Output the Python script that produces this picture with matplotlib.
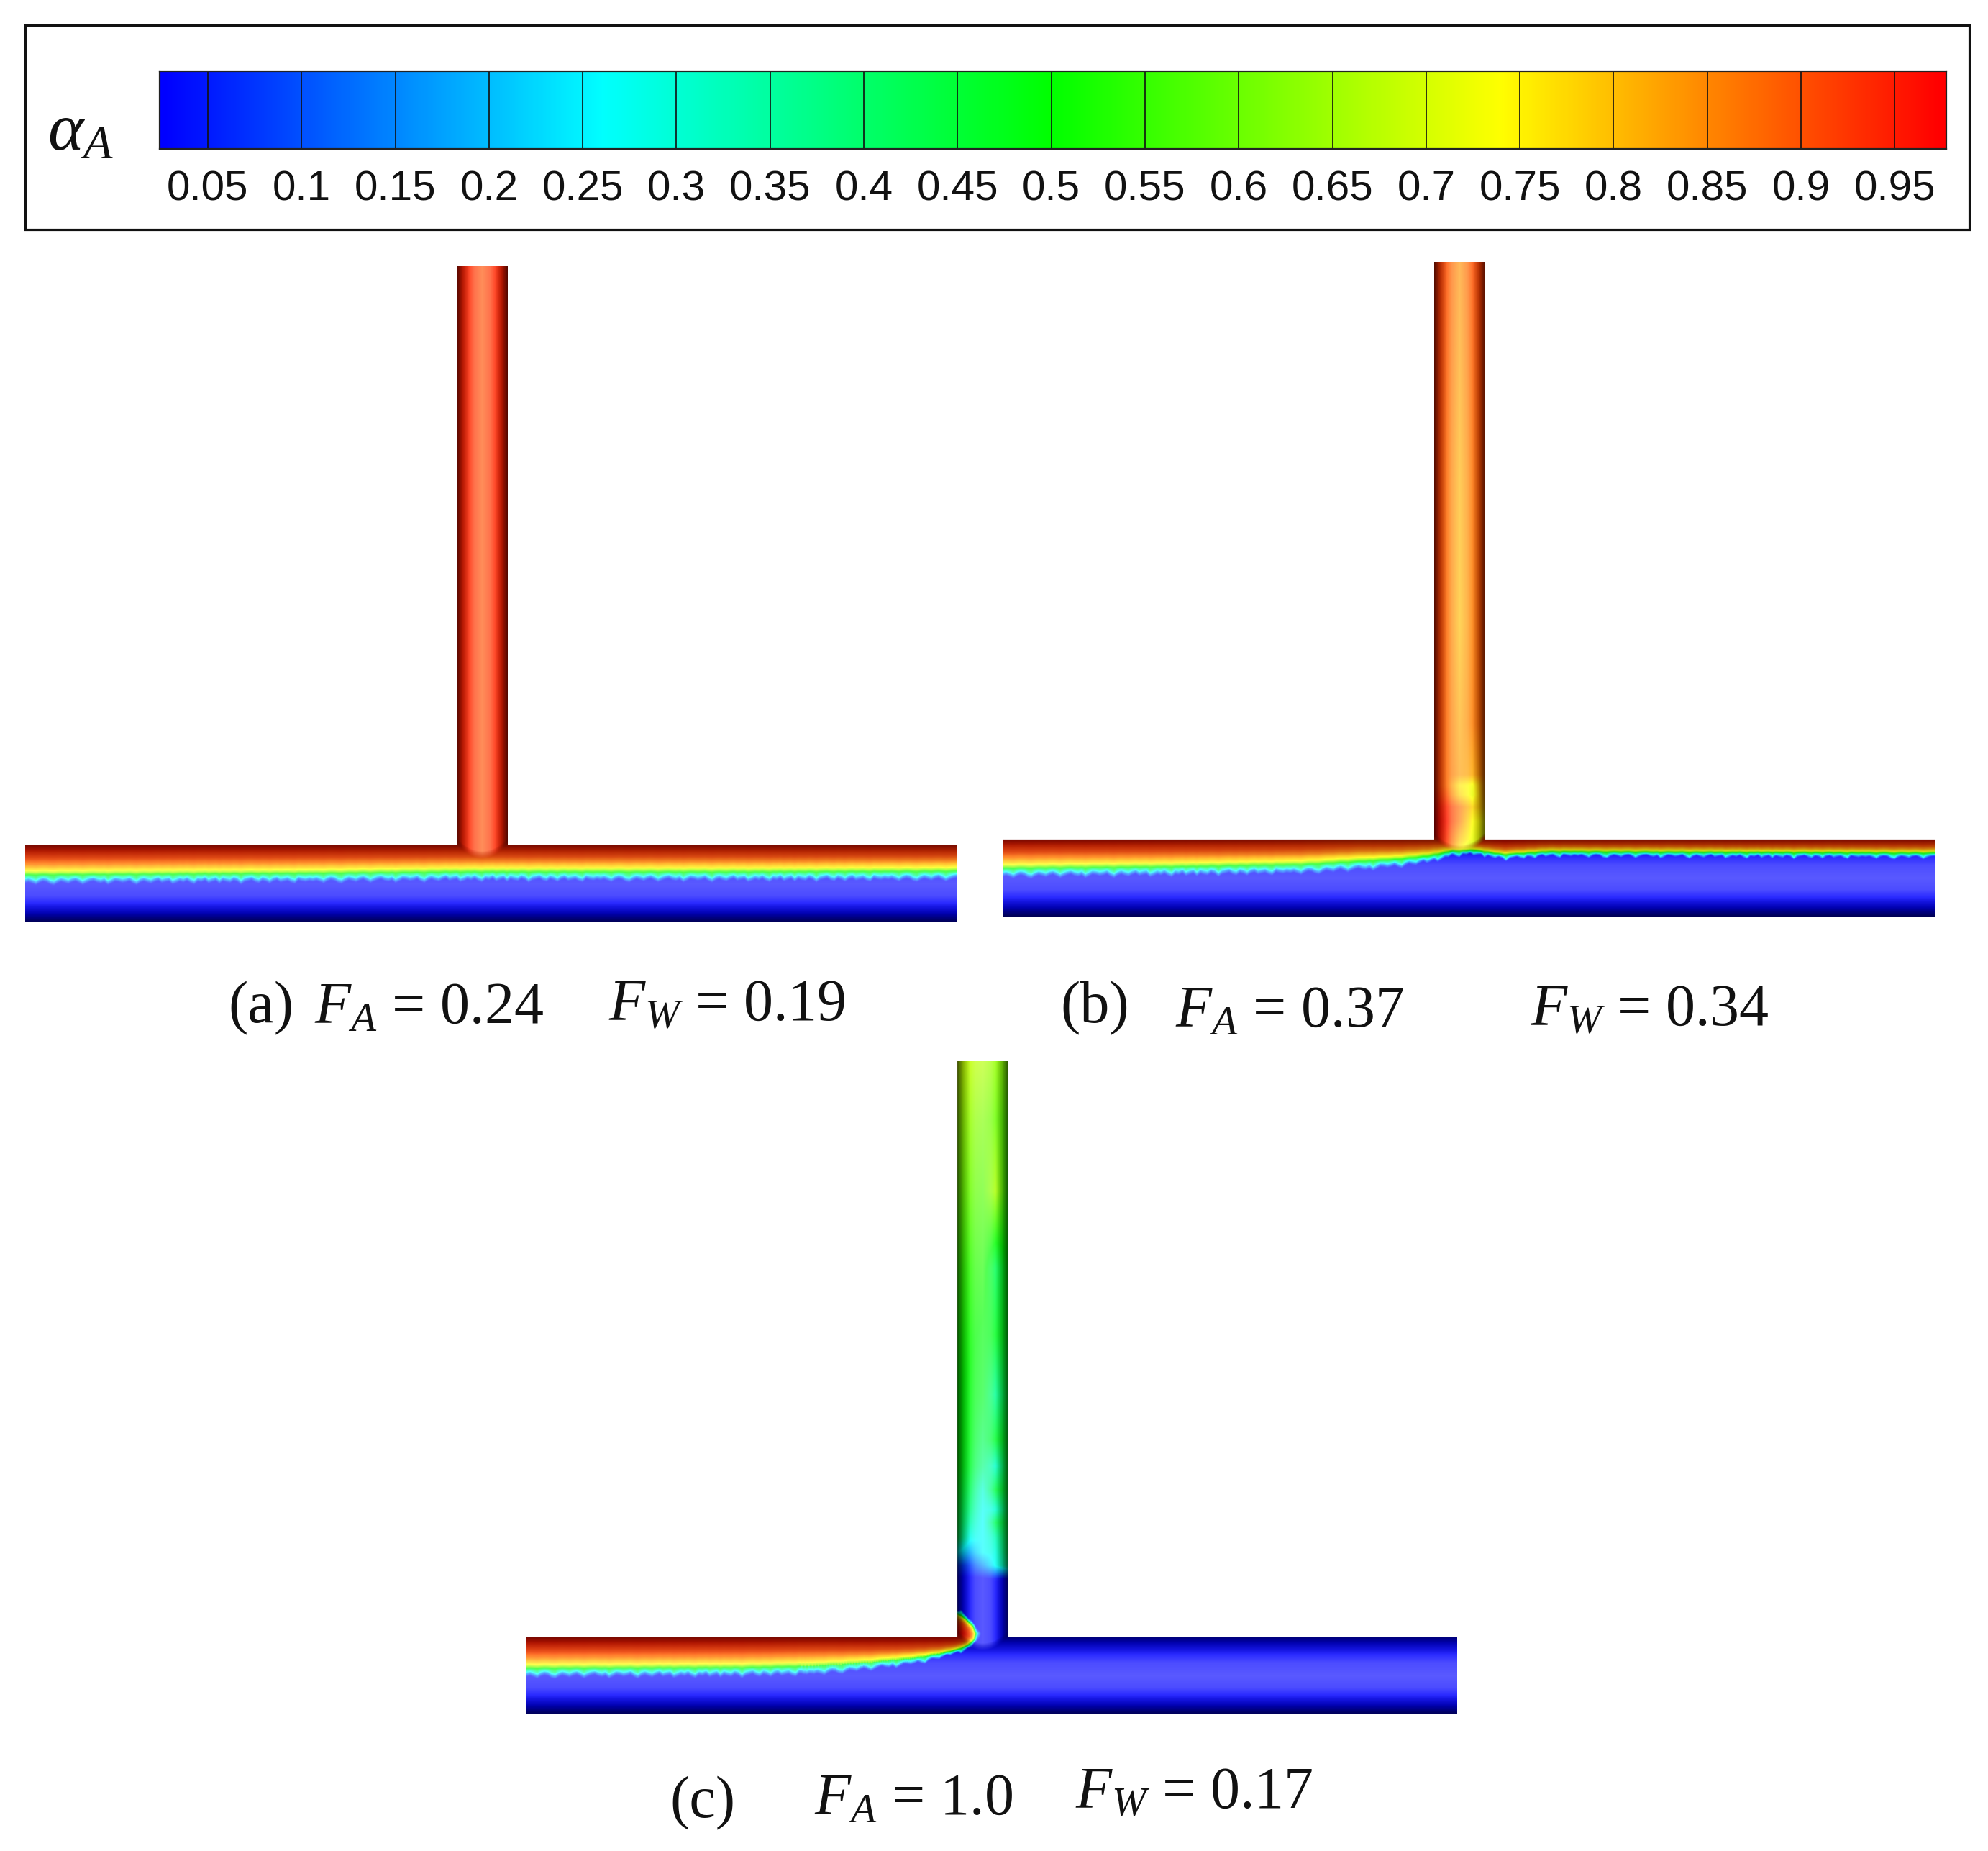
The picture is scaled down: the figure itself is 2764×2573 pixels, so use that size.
"""T-junction phase fraction contours, colour key on top, three flow cases below."""

import matplotlib

matplotlib.use("Agg")
import matplotlib.pyplot as plt
import numpy as np
from matplotlib.colors import LinearSegmentedColormap
from matplotlib.patches import Rectangle
from matplotlib.path import Path

W, H = 2764, 2573

LEVELS = [0.05, 0.1, 0.15, 0.2, 0.25, 0.3, 0.35, 0.4, 0.45, 0.5, 0.55, 0.6, 0.65,
          0.7, 0.75, 0.8, 0.85, 0.9, 0.95]
LEVEL_LABELS = ["0.05", "0.1", "0.15", "0.2", "0.25", "0.3", "0.35", "0.4", "0.45", "0.5",
                "0.55", "0.6", "0.65", "0.7", "0.75", "0.8", "0.85", "0.9", "0.95"]
KEY_RANGE = [0.0243, 0.9775]

# colour key nodes
CMAP_POS = [0.0, 0.026, 0.26, 0.5, 0.74, 0.975, 1.0]
CMAP_COL = ["#0000ff", "#0000ff", "#00ffff", "#00ff00", "#ffff00", "#ff0000", "#ff0000"]

# alpha across the interface, depth in px below the green line
BAND_DEPTH = [-45, -30, -18, -12, -5, -2.5, 0, 2, 4, 6, 9, 12]
BAND_ALPHA = [0.975, 0.95, 0.91, 0.86, 0.75, 0.65, 0.5, 0.38, 0.27, 0.16, 0.04, 0.0]

# interface height above the pipe floor in px, along the main pipe
A_IFACE_X = [0, 200, 400, 600, 800, 1000, 1296]
A_IFACE_Y = [66, 67, 68, 70, 70, 70, 71]
A_BAND_X = [0, 1296]
A_BAND_W = [1.2, 1.2]

B_IFACE_X = [0, 224, 415, 542, 593, 626, 655, 697, 761, 1000, 1296]
B_IFACE_Y = [67, 69, 72, 79, 84, 91, 92, 86, 90, 89, 88]
B_BAND_X = [0, 500, 593, 640, 1296]
B_BAND_W = [1.2, 1.2, 0.9, 0.6, 0.6]

C_IFACE_X = [0, 300, 400, 478, 540, 580, 600, 615, 624, 626, 622, 612, 600]
C_IFACE_Y = [64, 65, 67, 72, 78, 85, 90, 96, 104, 112, 122, 132, 140]
C_BAND_X = [0, 400, 540, 600, 1296]
C_BAND_W = [1.2, 1.2, 0.8, 0.45, 0.45]

# branch alpha table, rows by height above the main pipe, columns across the branch
BRANCH_ACROSS = [-1.0, -0.5, 0.0, 0.5, 1.0]
A_BRANCH_H = [-25, 804]
A_BRANCH = [[0.95, 0.94, 0.90, 0.94, 0.95],
            [0.95, 0.94, 0.90, 0.94, 0.95]]
B_BRANCH_H = [-25, 0, 25, 45, 62, 75, 90, 160, 300, 500, 804]
B_BRANCH = [[0.96, 0.90, 0.72, 0.60, 0.62],
            [0.97, 0.93, 0.80, 0.72, 0.72],
            [0.97, 0.95, 0.86, 0.74, 0.74],
            [0.96, 0.94, 0.87, 0.78, 0.80],
            [0.95, 0.90, 0.78, 0.72, 0.84],
            [0.94, 0.88, 0.76, 0.73, 0.85],
            [0.94, 0.88, 0.83, 0.82, 0.87],
            [0.94, 0.88, 0.82, 0.86, 0.90],
            [0.94, 0.88, 0.80, 0.86, 0.92],
            [0.94, 0.88, 0.81, 0.87, 0.92],
            [0.94, 0.90, 0.84, 0.90, 0.93]]
C_BRANCH_H = [-25, 70, 82, 100, 118, 139, 160, 178, 205, 238, 275, 337, 420, 513, 620, 720, 802]
C_BRANCH = [[0.0, 0.0, 0.0, 0.0, 0.0],
            [0.0, 0.0, 0.0, 0.0, 0.0],
            [0.02, 0.02, 0.02, 0.04, 0.03],
            [0.08, 0.08, 0.16, 0.27, 0.36],
            [0.26, 0.18, 0.26, 0.29, 0.42],
            [0.42, 0.28, 0.26, 0.33, 0.44],
            [0.45, 0.34, 0.26, 0.42, 0.45],
            [0.46, 0.38, 0.27, 0.30, 0.44],
            [0.48, 0.42, 0.30, 0.44, 0.46],
            [0.50, 0.46, 0.38, 0.31, 0.47],
            [0.50, 0.48, 0.42, 0.46, 0.47],
            [0.50, 0.49, 0.47, 0.36, 0.46],
            [0.52, 0.51, 0.49, 0.47, 0.48],
            [0.55, 0.54, 0.53, 0.42, 0.50],
            [0.60, 0.60, 0.58, 0.66, 0.54],
            [0.64, 0.64, 0.62, 0.60, 0.58],
            [0.68, 0.68, 0.67, 0.64, 0.62]]

# jagged edge of the interface, px, one value per 5 px sample and then repeated
RIPPLE = [0.5, -0.8, 1.2, 3.4, 0.2, -1.6, -0.4, 2.8, 4.0, 0.9, -1.1, 0.3, 2.0, -0.5, -1.9, 0.7,
          3.6, 1.1, -0.9, -2.1, 0.4, 1.5, -0.2, 3.9, 1.3, -1.4, -0.6, 1.0, 0.1, -1.7, 1.9, 4.2,
          0.6, -1.2, 0.8, 2.2, -0.3, -2.2, 1.4, 0.0, -1.0, 3.5, 1.6, -0.7, 0.9, -1.5, 1.7, 3.8,
          -0.4, 0.6, -1.8, 2.4, 0.3, -1.3, 3.1, -0.9, 0.8, 1.9, -1.6, 0.2, 4.4, 0.7, -0.6, -2.0,
          1.2, 2.7, -1.1, 0.5, 3.3, -0.2, -1.7, 1.6, 0.4, -0.8, 2.1, 3.6, -1.4, 0.1, 1.0, -0.5]

# captions: x, y, text in picture px
CAPTIONS = [
    (317, 1402, "(a)"), (437, 1402, r"$F_A$ = 0.24"), (846, 1398, r"$F_W$ = 0.19"),
    (1474, 1402, "(b)"), (1634, 1407, r"$F_A$ = 0.37"), (2128, 1405, r"$F_W$ = 0.34"),
    (931, 2507, "(c)"), (1132, 2502, r"$F_A$ = 1.0"), (1495, 2493, r"$F_W$ = 0.17"),
]

MAIN_LEN = 1296
MAIN_D = 107
BRANCH_X0 = 600
BRANCH_D = 71

cmap = LinearSegmentedColormap.from_list("key", list(zip(CMAP_POS, CMAP_COL)), N=1024)


def table_lookup(xq, yq, xs, ys, table):
    table = np.asarray(table)
    by_height = np.array([np.interp(yq, ys, table[:, j]) for j in range(table.shape[1])])
    return np.array([np.interp(xq, xs, by_height[:, i]) for i in range(len(yq))])


def light(alpha, r):
    # cylinder look: bright strip in the middle, dark at the walls
    r = np.abs(r)
    white = np.interp(r, [0, 0.3, 0.6, 0.8, 1], [0.35, 0.3, 0.1, 0, 0])[..., None]
    dark = np.interp(r, [0, 0.5, 0.75, 0.9, 1], [1, 1, 0.72, 0.47, 0.32])[..., None]
    rgb = cmap(alpha)[..., :3]
    return (rgb * (1 - white) + white) * dark


def band(depth, width):
    rip = np.resize(RIPPLE, MAIN_LEN // 5 + 2)
    rx = np.arange(len(rip)) * 5.0
    wiggle = np.interp(np.arange(MAIN_LEN) + 0.5, rx, rip)
    d = depth - wiggle * (0.12 + 0.8 * np.clip(depth / 6.0, 0, 1))
    return np.interp(d / width, BAND_DEPTH, BAND_ALPHA)


def panel_image(height, iface_x, iface_y, band_x, band_w, branch_h, branch, nose=False):
    x = np.arange(MAIN_LEN) + 0.5
    y = np.arange(height) + 0.5
    X, Y = np.meshgrid(x, y)
    width = np.interp(x, band_x, band_w)[None, :]

    if nose:
        # interface folds back into the branch, so use distance to the curve there
        n = len(iface_x)
        tip = int(np.argmax(iface_x))
        line_x = np.interp(np.linspace(0, n - 1, 240), np.arange(n), iface_x)
        line_y = np.interp(np.linspace(0, n - 1, 240), np.arange(n), iface_y)
        flat = np.interp(x, iface_x[:tip + 1], iface_y[:tip + 1])
        flat[x > BRANCH_X0 + 71] = 400
        depth = flat[None, :] - Y
        win = (X > 380) & (X < BRANCH_X0 + 71) & (Y < 200)
        px, py = X[win], Y[win]
        dist = np.sqrt(((px[:, None] - line_x) ** 2 + (py[:, None] - line_y) ** 2).min(axis=1))
        region = Path(list(zip(iface_x, iface_y)) + [(BRANCH_X0, 400), (-10, 400), (-10, iface_y[0])])
        inside = region.contains_points(np.column_stack([px, py]))
        depth[win] = np.where(inside, -dist, dist)
    else:
        depth = np.interp(x, iface_x, iface_y)[None, :] - Y

    a_main = band(depth, width)
    # upper wall of the main pipe is less dark than the floor
    r_main = (Y - MAIN_D / 2) / (MAIN_D / 2)
    rgb_main = light(a_main, np.where(r_main > 0, r_main * 0.9, r_main))

    rb = (X - (BRANCH_X0 + BRANCH_D / 2)) / (BRANCH_D / 2)
    rb_clip = np.clip(rb, -1, 1)
    h = Y - MAIN_D
    a_branch = table_lookup(x, h[:, 0], np.array(BRANCH_ACROSS) * BRANCH_D / 2 + BRANCH_X0 + BRANCH_D / 2,
                            branch_h, branch)
    if nose:
        a_branch = np.maximum(a_branch, a_main * (Y < 200))
    rgb_branch = light(a_branch, rb_clip)

    # rounded end of the branch shading inside the main pipe
    start = -18 * (1 - rb_clip ** 2)
    mix = np.clip((h - start) / 10.0, 0, 1)[..., None]
    in_branch = np.abs(rb) <= 1
    rgb = np.where(in_branch[..., None], mix * rgb_branch + (1 - mix) * rgb_main, rgb_main)

    solid = (Y <= MAIN_D) | in_branch
    return np.dstack([np.clip(rgb, 0, 1), solid.astype(float)])


plt.rcParams.update({
    "font.family": ["Liberation Sans"],
    "mathtext.fontset": "custom",
    "mathtext.rm": "Liberation Serif",
    "mathtext.it": "Liberation Serif:italic",
})

fig = plt.figure(figsize=(W / 100, H / 100), dpi=100, facecolor="white")


def px_axes(left, top, right, bottom):
    return fig.add_axes([left / W, 1 - bottom / H, (right - left) / W, (bottom - top) / H])


# page layer for the key frame and captions
page = px_axes(0, 0, W, H)
page.set_xlim(0, W)
page.set_ylim(H, 0)
page.axis("off")
page.add_patch(Rectangle((35, 35), 2703, 284, fill=False, edgecolor="#111111", linewidth=2.3))
page.text(66, 184, r"$\alpha_A$", fontsize=68, ha="left", va="center", color="#111111")

for cx, cy, s in CAPTIONS:
    page.text(cx, cy, s, fontsize=59, family="Liberation Serif", ha="left", va="center", color="#111111")

# colour key
key = px_axes(222, 99, 2706, 207)
grad = np.linspace(KEY_RANGE[0], KEY_RANGE[1], 1024)[None, :]
key.imshow(grad, cmap=cmap, vmin=0, vmax=1, aspect="auto", extent=[KEY_RANGE[0], KEY_RANGE[1], 0, 1])
key.vlines(LEVELS, 0, 1, color="#111111", linewidth=1.2)
key.set_xlim(KEY_RANGE)
key.set_ylim(0, 1)
key.set_yticks([])
key.set_xticks(LEVELS)
key.set_xticklabels(LEVEL_LABELS, fontsize=42, color="#111111")
key.tick_params(axis="x", length=0, pad=21)
for sp in key.spines.values():
    sp.set_linewidth(1.6)
    sp.set_color("#222222")

# px position of each case: main pipe left and right, branch top, main pipe bottom
cases = [
    (35, 1331, 370, 1282, A_IFACE_X, A_IFACE_Y, A_BAND_X, A_BAND_W, A_BRANCH_H, A_BRANCH, False),
    (1394, 2690, 364, 1274, B_IFACE_X, B_IFACE_Y, B_BAND_X, B_BAND_W, B_BRANCH_H, B_BRANCH, False),
    (732, 2026, 1475, 2383, C_IFACE_X, C_IFACE_Y, C_BAND_X, C_BAND_W, C_BRANCH_H, C_BRANCH, True),
]
for left, right, top, bottom, ix, iy, bx, bw, bh, bt, nose in cases:
    ax = px_axes(left, top, right, bottom)
    img = panel_image(bottom - top, ix, iy, bx, bw, bh, bt, nose)
    ax.imshow(img, origin="lower", extent=[0, MAIN_LEN, 0, img.shape[0]], aspect="auto",
              interpolation="bilinear")
    ax.axis("off")

fig.savefig("out.png", dpi=100, facecolor="white")
